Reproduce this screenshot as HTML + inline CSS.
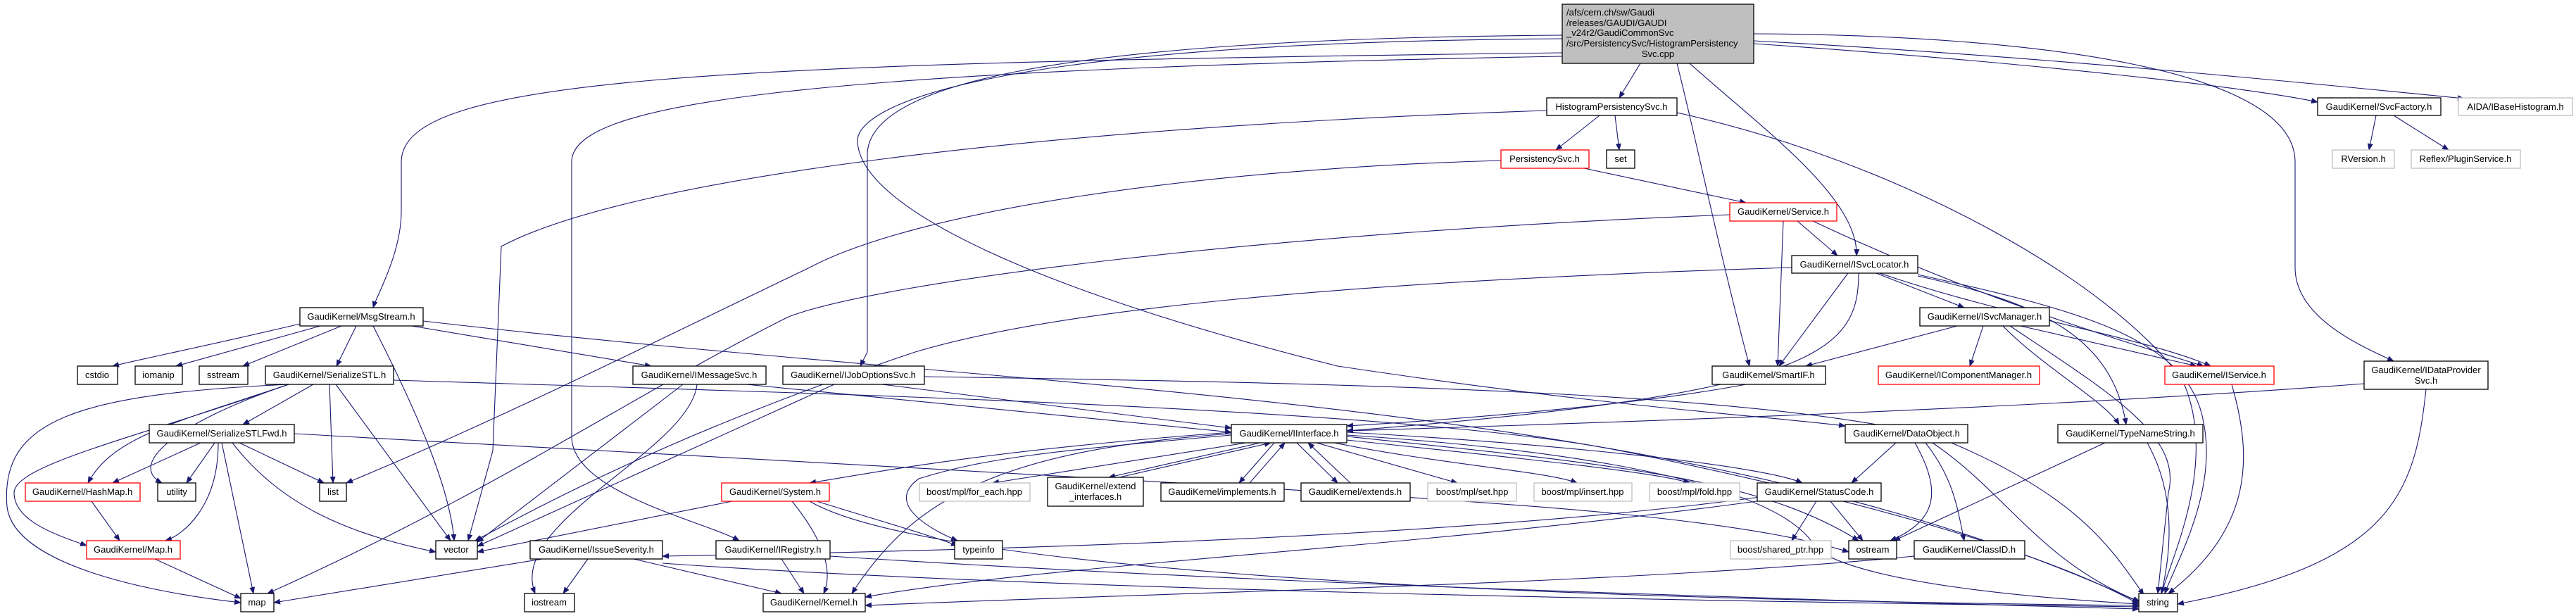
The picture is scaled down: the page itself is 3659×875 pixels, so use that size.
<!DOCTYPE html>
<html><head><meta charset="utf-8"><style>
html,body{margin:0;padding:0;background:#fff;}
svg{display:block;}
text{font-family:"Liberation Sans",Arial,sans-serif;font-size:13px;fill:#000;}
.e{fill:none;stroke:#191970;stroke-width:1.1;marker-end:url(#a);}
.n{fill:#fff;stroke:#000;stroke-width:1.3;}
.r{fill:#fff;stroke:#ff0000;stroke-width:1.3;}
.g{fill:#fff;stroke:#bfbfbf;stroke-width:1.3;}
</style></head><body>
<svg width="3659" height="875" viewBox="0 0 3659 875" xmlns="http://www.w3.org/2000/svg">
<defs><marker id="a" markerWidth="10" markerHeight="8" refX="9" refY="4" orient="auto" markerUnits="userSpaceOnUse"><polygon points="0,0 10,4 0,8" fill="#191970"/></marker></defs>
<g>
<path class="e" d="M2219 75 C1000 90 570 110 570 230 L570 300 C570 360 535 420 530 437"/>
<path class="e" d="M2219 80 C1100 100 812 150 812 230 L812 620 C812 700 1000 740 1050 768"/>
<path class="e" d="M2219 50 C1500 55 1232 120 1232 220 L1232 500 L1222 520"/>
<path class="e" d="M2219 55 C1400 60 1218 150 1218 200 C1220 300 1500 420 1900 520 C2300 580 2500 590 2621 605"/>
<path class="e" d="M2330 90 L2300 139"/>
<path class="e" d="M2491 62 C2900 90 3200 125 3292 145"/>
<path class="e" d="M2491 58 C2900 80 3300 120 3500 140"/>
<path class="e" d="M2491 48 C2900 50 3260 100 3260 230 L3260 380 C3260 450 3350 490 3400 513"/>
<path class="e" d="M2400 90 C2500 180 2640 280 2637 363"/>
<path class="e" d="M2382 90 C2410 200 2440 350 2485 520"/>
<path class="e" d="M2272 164 L2210 213"/>
<path class="e" d="M2294 164 L2300 213"/>
<path class="e" d="M2382 160 C2700 230 3000 400 3100 540 C3150 650 3090 780 3070 843"/>
<path class="e" d="M2197 157 C1500 180 900 250 712 350 L700 640 L665 768"/>
<path class="e" d="M2250 239 L2480 288"/>
<path class="e" d="M2132 228 C1700 240 1300 300 1150 380 C900 500 700 600 492 686"/>
<path class="e" d="M3375 164 L3365 213"/>
<path class="e" d="M3400 164 L3478 213"/>
<path class="e" d="M2553 314 L2610 363"/>
<path class="e" d="M2533 314 L2525 520"/>
<path class="e" d="M2575 314 C2800 420 3000 480 3130 520"/>
<path class="e" d="M2457 305 C1800 330 1250 400 1120 450 C900 560 700 700 380 843"/>
<path class="e" d="M2625 388 L2527 520"/>
<path class="e" d="M2665 388 L2790 437"/>
<path class="e" d="M2640 388 C2640 500 2580 560 1913 612"/>
<path class="e" d="M2724 392 C2900 430 3000 480 3020 603"/>
<path class="e" d="M2724 390 C2950 440 3110 480 3130 600 C3150 700 3090 800 3075 843"/>
<path class="e" d="M2670 388 C2850 450 3050 480 3140 520"/>
<path class="e" d="M2545 380 C1900 400 1500 440 1300 500 C1000 600 800 700 675 768"/>
<path class="e" d="M2780 463 L2565 520"/>
<path class="e" d="M2817 463 L2798 520"/>
<path class="e" d="M2870 463 L3120 520"/>
<path class="e" d="M2845 463 C2900 520 2990 570 3010 603"/>
<path class="e" d="M2855 463 C3000 560 3100 620 3080 700 L3065 843"/>
<path class="e" d="M3170 546 C3200 650 3200 750 3080 843"/>
<path class="e" d="M3358 545 C2900 580 2300 600 1913 612"/>
<path class="e" d="M3446 553 C3430 700 3400 800 3093 858"/>
<path class="e" d="M2480 546 C2300 580 2000 600 1913 605"/>
<path class="e" d="M2990 629 L2690 768"/>
<path class="e" d="M3050 629 C3090 700 3085 780 3070 843"/>
<path class="e" d="M2693 629 L2630 686"/>
<path class="e" d="M2720 629 C2760 700 2750 740 2685 768"/>
<path class="e" d="M2735 629 C2775 680 2780 720 2790 768"/>
<path class="e" d="M2745 629 C2850 700 2900 800 3040 855"/>
<path class="e" d="M2580 712 L2545 768"/>
<path class="e" d="M2600 712 L2646 768"/>
<path class="e" d="M2500 706 C2100 760 1500 780 941 790"/>
<path class="e" d="M2510 710 C2000 780 1500 800 1229 848"/>
<path class="e" d="M2719 790 C2300 830 1700 840 1229 860"/>
<path class="e" d="M1770 629 L1410 686"/>
<path class="e" d="M1790 629 L1575 678"/>
<path class="e" d="M1590 678 L1805 629"/>
<path class="e" d="M1810 629 L1760 686"/>
<path class="e" d="M1775 686 L1825 629"/>
<path class="e" d="M1842 629 L1900 686"/>
<path class="e" d="M1918 686 L1858 629"/>
<path class="e" d="M1870 629 L2070 686"/>
<path class="e" d="M1895 629 C2050 660 2200 670 2240 686"/>
<path class="e" d="M1913 625 C2150 650 2350 670 2400 686"/>
<path class="e" d="M1749 618 C1500 640 1400 650 1305 680 C1250 720 1340 760 1360 768"/>
<path class="e" d="M1749 614 C1400 640 1250 670 1150 686"/>
<path class="e" d="M1913 614 C2200 630 2500 660 2560 686"/>
<path class="e" d="M1913 620 C2300 660 2500 680 2640 768"/>
<path class="e" d="M1749 616 C1400 640 1290 720 1210 843"/>
<path class="e" d="M1913 618 C2400 650 2550 720 2580 780 C2650 830 2900 850 3038 858"/>
<path class="e" d="M1040 712 L678 784"/>
<path class="e" d="M1160 712 C1250 740 1320 760 1360 775"/>
<path class="e" d="M1125 712 C1180 780 1180 820 1170 843"/>
<path class="e" d="M1150 712 C1300 800 2000 850 3038 860"/>
<path class="e" d="M770 794 L389 856"/>
<path class="e" d="M835 794 L800 843"/>
<path class="e" d="M900 794 L1110 843"/>
<path class="e" d="M941 800 C1500 840 2500 855 3038 862"/>
<path class="e" d="M1110 794 L1142 843"/>
<path class="e" d="M1179 790 C1800 830 2500 850 3038 865"/>
<path class="e" d="M426 460 C300 490 200 510 160 520"/>
<path class="e" d="M455 463 L250 520"/>
<path class="e" d="M485 463 L345 520"/>
<path class="e" d="M506 463 L478 520"/>
<path class="e" d="M530 463 C600 600 640 700 645 768"/>
<path class="e" d="M585 463 L925 520"/>
<path class="e" d="M601 456 C1500 560 2400 560 3038 855"/>
<path class="e" d="M445 546 L345 603"/>
<path class="e" d="M468 546 L473 686"/>
<path class="e" d="M477 546 L640 768"/>
<path class="e" d="M410 546 C250 600 160 620 125 686"/>
<path class="e" d="M410 546 C250 600 180 660 230 686"/>
<path class="e" d="M410 546 C200 620 20 660 20 700 C20 740 80 760 123 775"/>
<path class="e" d="M410 546 C100 560 0 600 10 720 C20 800 200 840 342 856"/>
<path class="e" d="M559 540 C1200 560 2000 580 2300 640 C2600 700 2900 780 3038 858"/>
<path class="e" d="M1060 546 C1400 580 1600 600 1749 614"/>
<path class="e" d="M970 546 L678 770"/>
<path class="e" d="M990 546 C980 640 720 740 760 843"/>
<path class="e" d="M1253 546 L1749 608"/>
<path class="e" d="M1185 546 L678 776"/>
<path class="e" d="M1313 535 C2000 545 2500 560 2750 620 C2950 700 3000 780 3045 845"/>
<path class="e" d="M285 629 L160 686"/>
<path class="e" d="M305 629 L265 686"/>
<path class="e" d="M340 629 L460 686"/>
<path class="e" d="M330 629 C400 720 500 760 619 784"/>
<path class="e" d="M310 629 C310 720 260 760 235 768"/>
<path class="e" d="M315 629 L360 843"/>
<path class="e" d="M418 616 C1200 660 2000 700 2300 730 C2500 750 2580 770 2626 784"/>
<path class="e" d="M130 712 L170 768"/>
<path class="e" d="M220 794 L342 850"/>
</g>
<g>
<rect x="2219" y="6" width="272" height="84" fill="#bfbfbf" stroke="#000" stroke-width="1.3"/>
<text x="2225" y="22">/afs/cern.ch/sw/Gaudi</text>
<text x="2225" y="37">/releases/GAUDI/GAUDI</text>
<text x="2225" y="51">_v24r2/GaudiCommonSvc</text>
<text x="2225" y="66">/src/PersistencySvc/HistogramPersistency</text>
<text x="2355" y="81" text-anchor="middle">Svc.cpp</text>
</g>
<g text-anchor="middle">
<rect class="n" x="2197" y="139" width="185" height="25"/><text x="2289" y="156">HistogramPersistencySvc.h</text>
<rect class="r" x="2132" y="213" width="125" height="26"/><text x="2194" y="230">PersistencySvc.h</text>
<rect class="n" x="2282" y="213" width="40" height="26"/><text x="2302" y="230">set</text>
<rect class="n" x="3292" y="139" width="175" height="25"/><text x="3379" y="156">GaudiKernel/SvcFactory.h</text>
<rect class="g" x="3492" y="139" width="162" height="25"/><text x="3573" y="156">AIDA/IBaseHistogram.h</text>
<rect class="g" x="3313" y="213" width="88" height="26"/><text x="3357" y="230">RVersion.h</text>
<rect class="g" x="3425" y="213" width="155" height="26"/><text x="3502" y="230">Reflex/PluginService.h</text>
<rect class="r" x="2457" y="288" width="152" height="26"/><text x="2533" y="305">GaudiKernel/Service.h</text>
<rect class="n" x="2545" y="363" width="179" height="25"/><text x="2634" y="380">GaudiKernel/ISvcLocator.h</text>
<rect class="n" x="426" y="437" width="175" height="26"/><text x="513" y="454">GaudiKernel/MsgStream.h</text>
<rect class="n" x="110" y="520" width="57" height="26"/><text x="138" y="537">cstdio</text>
<rect class="n" x="192" y="520" width="67" height="26"/><text x="225" y="537">iomanip</text>
<rect class="n" x="283" y="520" width="69" height="26"/><text x="317" y="537">sstream</text>
<rect class="n" x="377" y="520" width="182" height="26"/><text x="468" y="537">GaudiKernel/SerializeSTL.h</text>
<rect class="n" x="899" y="520" width="189" height="26"/><text x="993" y="537">GaudiKernel/IMessageSvc.h</text>
<rect class="n" x="1112" y="520" width="201" height="26"/><text x="1212" y="537">GaudiKernel/IJobOptionsSvc.h</text>
<rect class="n" x="212" y="603" width="206" height="26"/><text x="315" y="620">GaudiKernel/SerializeSTLFwd.h</text>
<rect class="r" x="36" y="686" width="163" height="26"/><text x="117" y="703">GaudiKernel/HashMap.h</text>
<rect class="n" x="224" y="686" width="54" height="26"/><text x="251" y="703">utility</text>
<rect class="n" x="454" y="686" width="38" height="26"/><text x="473" y="703">list</text>
<rect class="r" x="1025" y="686" width="153" height="26"/><text x="1101" y="703">GaudiKernel/System.h</text>
<rect class="r" x="123" y="768" width="133" height="26"/><text x="189" y="785">GaudiKernel/Map.h</text>
<rect class="n" x="619" y="768" width="59" height="26"/><text x="648" y="785">vector</text>
<rect class="n" x="753" y="768" width="188" height="26"/><text x="847" y="785">GaudiKernel/IssueSeverity.h</text>
<rect class="n" x="1017" y="768" width="162" height="26"/><text x="1098" y="785">GaudiKernel/IRegistry.h</text>
<rect class="n" x="342" y="843" width="47" height="26"/><text x="365" y="860">map</text>
<rect class="n" x="745" y="843" width="71" height="26"/><text x="780" y="860">iostream</text>
<rect class="n" x="1084" y="843" width="145" height="26"/><text x="1156" y="860">GaudiKernel/Kernel.h</text>
<rect class="n" x="1749" y="603" width="164" height="26"/><text x="1831" y="620">GaudiKernel/IInterface.h</text>
<rect class="g" x="1306" y="686" width="157" height="26"/><text x="1384" y="703">boost/mpl/for_each.hpp</text>
<rect class="n" x="1488" y="678" width="136" height="41"/><text x="1556" y="695">GaudiKernel/extend</text><text x="1556" y="710">_interfaces.h</text>
<rect class="n" x="1649" y="686" width="175" height="26"/><text x="1736" y="703">GaudiKernel/implements.h</text>
<rect class="n" x="1848" y="686" width="155" height="26"/><text x="1925" y="703">GaudiKernel/extends.h</text>
<rect class="g" x="2028" y="686" width="126" height="26"/><text x="2091" y="703">boost/mpl/set.hpp</text>
<rect class="g" x="2179" y="686" width="139" height="26"/><text x="2248" y="703">boost/mpl/insert.hpp</text>
<rect class="g" x="2343" y="686" width="128" height="26"/><text x="2407" y="703">boost/mpl/fold.hpp</text>
<rect class="n" x="1356" y="768" width="68" height="26"/><text x="1390" y="785">typeinfo</text>
<rect class="n" x="2727" y="437" width="184" height="26"/><text x="2819" y="454">GaudiKernel/ISvcManager.h</text>
<rect class="n" x="2432" y="520" width="161" height="26"/><text x="2512" y="537">GaudiKernel/SmartIF.h</text>
<rect class="r" x="2668" y="520" width="229" height="26"/><text x="2782" y="537">GaudiKernel/IComponentManager.h</text>
<rect class="r" x="3075" y="520" width="155" height="26"/><text x="3152" y="537">GaudiKernel/IService.h</text>
<rect class="n" x="3358" y="513" width="176" height="40"/><text x="3446" y="530">GaudiKernel/IDataProvider</text><text x="3446" y="545">Svc.h</text>
<rect class="n" x="2621" y="603" width="174" height="26"/><text x="2708" y="620">GaudiKernel/DataObject.h</text>
<rect class="n" x="2923" y="603" width="206" height="26"/><text x="3026" y="620">GaudiKernel/TypeNameString.h</text>
<rect class="n" x="2496" y="686" width="176" height="26"/><text x="2584" y="703">GaudiKernel/StatusCode.h</text>
<rect class="g" x="2458" y="768" width="143" height="26"/><text x="2529" y="785">boost/shared_ptr.hpp</text>
<rect class="n" x="2626" y="768" width="68" height="26"/><text x="2660" y="785">ostream</text>
<rect class="n" x="2719" y="768" width="157" height="26"/><text x="2797" y="785">GaudiKernel/ClassID.h</text>
<rect class="n" x="3038" y="843" width="55" height="26"/><text x="3065" y="860">string</text>
</g>
</svg>
</body></html>
